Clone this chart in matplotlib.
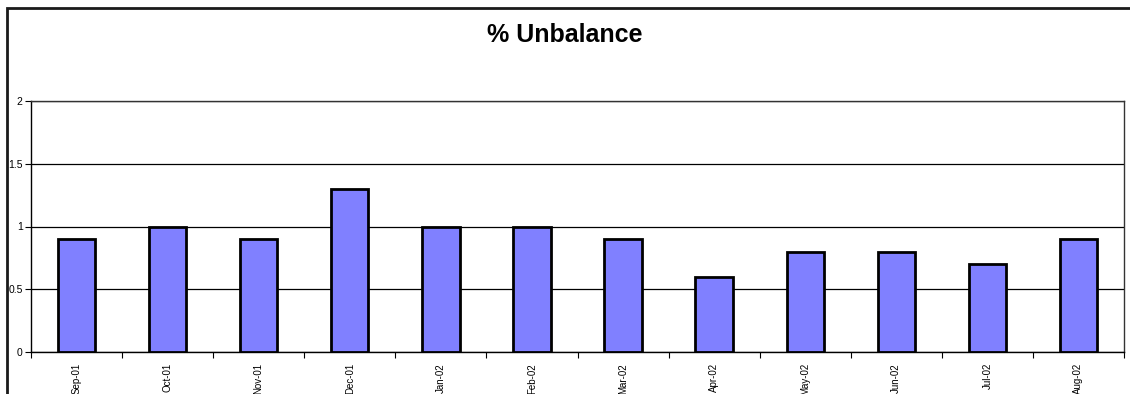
import numpy as np
import matplotlib
matplotlib.use('Agg')
import matplotlib.pyplot as plt
from matplotlib.patches import Rectangle

months = ['Sep-01', 'Oct-01', 'Nov-01', 'Dec-01', 'Jan-02', 'Feb-02',
          'Mar-02', 'Apr-02', 'May-02', 'Jun-02', 'Jul-02', 'Aug-02']
unbalance = [0.9, 1.0, 0.9, 1.3, 1.0, 1.0, 0.9, 0.6, 0.8, 0.8, 0.7, 0.9]
yticks = [0, 0.5, 1, 1.5, 2]

plt.rcParams['font.family'] = ['Liberation Sans', 'DejaVu Sans']

fig = plt.figure(figsize=(11.3, 3.94), dpi=100)
# cadre du graphique
fig.patches.append(Rectangle((6.5 / 1130, -0.2), 1.2, 1.2 - 7.5 / 394,
                             transform=fig.transFigure, fill=False,
                             edgecolor='#1a1a1a', linewidth=2))

ax = fig.add_axes([31 / 1130, 1 - 352 / 394, (1124 - 31) / 1130, (352 - 101) / 394])

x = np.arange(len(months))
ax.bar(x, unbalance, width=0.41, color='#8080FF', edgecolor='black',
       linewidth=2, zorder=3)

ax.set_xlim(-0.5, len(months) - 0.5)
ax.set_ylim(0, 2)
ax.set_yticks(yticks)
ax.set_yticklabels(['0', '0.5', '1', '1.5', '2'], fontsize=7.5)
ax.yaxis.grid(True, color='black', linewidth=0.9, zorder=0)

ax.set_xticks(np.arange(len(months) + 1) - 0.5)
ax.set_xticklabels([])
ax.set_xticks(x, minor=True)
ax.set_xticklabels(months, minor=True, rotation=90, fontsize=7, va='top')
ax.tick_params(axis='x', which='minor', length=0, pad=8)
ax.tick_params(axis='x', which='major', length=4, direction='out', width=0.8)
ax.tick_params(axis='y', length=4, direction='out', width=0.8, pad=2)

for s in ['left', 'bottom']:
    ax.spines[s].set_linewidth(1.0)
for s in ['top', 'right']:
    ax.spines[s].set_color('#333333')
    ax.spines[s].set_linewidth(1.0)

fig.text(0.5, 1 - 35 / 394, '% Unbalance', ha='center', va='center',
         fontsize=18, fontweight='bold')

fig.savefig('out.png', dpi=100)
